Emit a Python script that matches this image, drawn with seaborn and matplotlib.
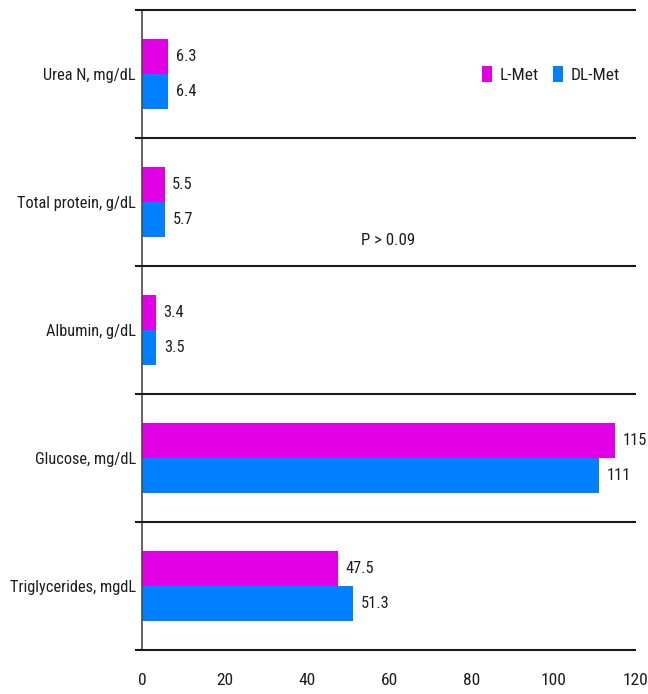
import matplotlib
matplotlib.use("Agg")
import matplotlib.pyplot as plt
import matplotlib.transforms as mtransforms
import pandas as pd
import seaborn as sns

# Blood metabolites by methionine source
categories = ["Urea N, mg/dL", "Total protein, g/dL", "Albumin, g/dL",
              "Glucose, mg/dL", "Triglycerides, mgdL"]
l_met = [6.3, 5.5, 3.4, 115, 47.5]
dl_met = [6.4, 5.7, 3.5, 111, 51.3]
groups = ["L-Met", "DL-Met"]
colors = ["#E100E6", "#0080FF"]
x_ticks = [0, 20, 40, 60, 80, 100, 120]
p_note = "P > 0.09"

df = pd.DataFrame({
    "metabolite": categories * 2,
    "value": l_met + dl_met,
    "group": [groups[0]] * len(categories) + [groups[1]] * len(categories),
})

sns.set_style("white")
FAMILY = ["Roboto Condensed", "DejaVu Sans"]
plt.rcParams["font.family"] = FAMILY
TEXT_COLOR = "#1e1e1e"

W, H = 648, 694
fig = plt.figure(figsize=(W / 100, H / 100), dpi=100)
renderer = fig.canvas.get_renderer()


def fit_size(sample, width_px):
    """Font size (pt) at which `sample` renders `width_px` pixels wide."""
    t = fig.text(0, 0, sample, fontsize=10)
    w = t.get_window_extent(renderer).width
    t.remove()
    return 10 * width_px / w


fs_cat = fit_size(categories[-1], 126)
fs_val = fit_size("115", 24)
fs_tick = fit_size("20", 17)
fs_leg = fit_size("DL-Met", 49)
fs_note = fit_size(p_note, 54)

x0, x1, y_top, y_bot = 142, 636, 10, 650
ax = fig.add_axes([x0 / W, (H - y_bot) / H, (x1 - x0) / W, (y_bot - y_top) / H])

sns.barplot(data=df, y="metabolite", x="value", hue="group", order=categories,
            hue_order=groups, palette=colors, orient="h", width=0.54,
            saturation=1, linewidth=0, ax=ax, legend=True)

for container in ax.containers:
    ax.bar_label(container, labels=[f"{v:g}" for v in container.datavalues],
                 padding=5.5, fontsize=fs_val, color=TEXT_COLOR)

ax.set_xlim(x_ticks[0], x_ticks[-1])
ax.set_ylim(len(categories) - 0.5, -0.5)
ax.set_xticks(x_ticks)
ax.set_xlabel("")
ax.set_ylabel("")
ax.tick_params(axis="x", direction="out", length=8.6, width=1.1, color="#3a3a3a",
               labelsize=fs_tick, pad=8, labelcolor=TEXT_COLOR)
ax.tick_params(axis="y", length=0, pad=4.3, labelsize=fs_cat, labelcolor=TEXT_COLOR)

for side in ("top", "right", "bottom"):
    ax.spines[side].set_visible(False)
ax.spines["left"].set_color("#4a4a4a")
ax.spines["left"].set_linewidth(1.2)

# Group separators, reaching slightly left of the value axis
trans = mtransforms.blended_transform_factory(ax.transAxes, ax.transData)
for i in range(len(categories) + 1):
    ax.plot([-7 / (x1 - x0), 1.0], [i - 0.5, i - 0.5], transform=trans,
            color="#1a1a1a", linewidth=1.5, clip_on=False, zorder=5,
            solid_capstyle="butt")

ax.text((388 - x0) / (x1 - x0), 1.3, p_note, transform=trans, ha="center",
        va="center", fontsize=fs_note, color=TEXT_COLOR)

px_leg = fs_leg * 100 / 72
leg = ax.legend(loc="center right",
                bbox_to_anchor=((620 - x0) / (x1 - x0), (y_bot - 74.5) / (y_bot - y_top)),
                ncol=2, frameon=False, fontsize=fs_leg, borderpad=0, borderaxespad=0,
                handlelength=10 / px_leg, handleheight=17 / px_leg,
                handletextpad=8 / px_leg, columnspacing=14 / px_leg)
for t in leg.get_texts():
    t.set_color(TEXT_COLOR)

fig.savefig("out.png", dpi=100)
